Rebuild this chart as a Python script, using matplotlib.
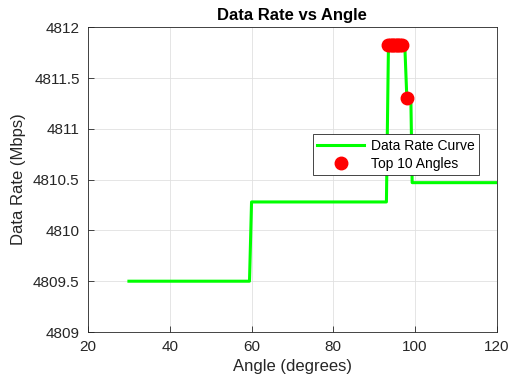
import numpy as np
import matplotlib
matplotlib.use("Agg")
import matplotlib.pyplot as plt
from matplotlib.ticker import FormatStrFormatter

plt.rcParams['font.family'] = ['Liberation Sans', 'DejaVu Sans']

# vertices of the data rate curve (angle in degrees, rate in Mbps)
angles = [30, 59.5, 60.0, 93.0, 93.5, 97.0, 97.5, 98.0, 99.0, 99.3, 120]
rates = [4809.5, 4809.5, 4810.28, 4810.28, 4811.82, 4811.82, 4811.82,
         4811.30, 4811.25, 4810.47, 4810.47]

# top 10 angles
top_angles = [93.5, 93.9, 94.3, 94.7, 95.1, 95.5, 95.9, 96.3, 96.8, 98.0]
top_rates = [4811.82] * 9 + [4811.30]

fig = plt.figure(figsize=(5.18, 3.81), dpi=100)
ax = fig.add_axes([0.170, 0.1286, 0.789, 0.800])

ax.plot(angles, rates, color=(0, 1, 0), lw=2.2, label='Data Rate Curve', zorder=2)
ax.plot(top_angles, top_rates, 'o', color='red', ms=9, label='Top 10 Angles', zorder=3)

ax.set_xlim(20, 120)
ax.set_ylim(4809, 4812)
ax.set_xticks(np.arange(20, 121, 20))
ax.set_yticks(np.arange(4809, 4812.01, 0.5))
ax.yaxis.set_major_formatter(FormatStrFormatter('%g'))
ax.tick_params(direction='in', labelsize=11, colors='#262626', length=4, width=0.6, pad=6)
ax.grid(True, color='#e0e0e0', lw=0.6)
ax.set_axisbelow(True)
for s in ax.spines.values():
    s.set_color('#262626')
    s.set_linewidth(0.6)

ax.set_title('Data Rate vs Angle', fontsize=12, fontweight='bold', pad=5)
ax.set_xlabel('Angle (degrees)', fontsize=12, color='#262626', labelpad=3)
ax.set_ylabel('Data Rate (Mbps)', fontsize=12, color='#262626', labelpad=5)

leg = ax.legend(loc='upper left', bbox_to_anchor=(0.55, 0.648), fontsize=10,
                fancybox=False, framealpha=1, edgecolor='#262626',
                borderpad=0.3, labelspacing=0.3, handlelength=3.4,
                handletextpad=0.5, borderaxespad=0)
leg.get_frame().set_linewidth(0.6)

fig.savefig('out.png', dpi=100)
